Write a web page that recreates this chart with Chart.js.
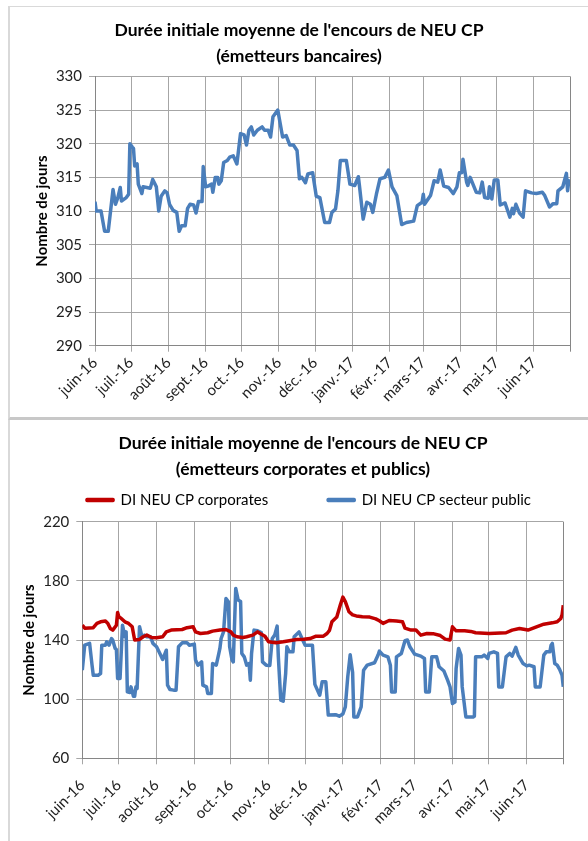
<!DOCTYPE html>
<html lang="fr">
<head>
<meta charset="utf-8">
<title>Durée initiale moyenne de l'encours de NEU CP</title>
<script src="https://cdn.jsdelivr.net/npm/chart.js@4.4.1/dist/chart.umd.min.js"></script>
<style>
  html, body { margin: 0; padding: 0; background: #fff; }
  body { width: 588px; height: 841px; position: relative; overflow: hidden; font-family: Lato, sans-serif; }
  .panel { position: absolute; box-sizing: border-box; }
  #panelTop { left: 8px; top: 6px; width: 600px; height: 414px; border-top: 1px solid #d9d9d9; border-left: 2px solid #d9d9d9; border-bottom: 3px solid #c8c8c8; }
  #panelBottom { left: 8px; top: 420px; width: 600px; height: 440px; border-left: 2px solid #d9d9d9; }
  canvas { position: absolute; }
  #bankChart { left: 10px; top: 7px; }
  #corpChart { left: 10px; top: 420px; }
</style>
</head>
<body>
<div class="panel" id="panelTop"></div>
<div class="panel" id="panelBottom"></div>
<canvas id="bankChart" width="578" height="410"></canvas>
<canvas id="corpChart" width="578" height="421"></canvas>
<script>
// month axis (days counted from 1 June 2016)
const monthLabels = ['juin-16','juil.-16','août-16','sept.-16','oct.-16','nov.-16','déc.-16','janv.-17','févr.-17','mars-17','avr.-17','mai-17','juin-17'];
const monthStarts = [0,30,61,92,122,153,183,214,245,273,304,334,365];
const lastDay = 395;

// émetteurs bancaires
const bankDays = [0,1,5,8,11,15,17,19,21,22,26,28,29,31,32,33,35,36,39,40,43,46,48,51,53,55,58,60,62,65,68,70,72,75,77,79,82,84,86,89,90,92,94,97,98,100,102,103,105,107,110,112,115,118,121,124,126,128,130,132,135,139,141,144,146,148,152,154,156,159,162,165,168,170,172,175,177,181,184,187,191,195,197,200,202,204,209,212,216,219,220,223,226,229,231,234,237,241,244,247,251,255,259,265,268,272,273,274,279,282,285,287,290,294,298,301,303,305,306,309,310,312,317,320,322,324,327,328,330,332,335,337,341,345,347,348,350,353,356,358,363,367,372,374,378,381,384,385,387,389,392,393,394,395];
const bankValues = [311.4,310,310,307,307,313.2,311,312,313.5,311.5,312,312.5,320,319.5,319.3,316.7,317,314,312.6,313.6,313.5,313.4,314.7,313.6,310,312.2,313,312.7,311,310.1,309.8,307,307.8,307.8,310.4,311,310.9,309.7,311.4,311.4,316.6,313.6,313.7,314,312.8,315,315,314,314.5,317.2,317.5,318,318.2,317,321.5,321.3,319.8,322,322.5,321.3,322,322.5,322,322,321,324,325,323,321,321.2,319.8,319.8,319,314.8,315,314.2,315.5,315.7,312.2,312,308.3,308.3,309.8,310.3,313,317.5,317.5,314,313.8,315.1,313.6,308.8,311.3,311,309.8,312.5,314.8,315,316.1,313.6,312.3,308,308.3,308.5,310.8,311.3,312.5,311,312.3,314.5,314.3,316.1,313.7,313.5,312.6,313.6,315.7,315.7,317.7,314.3,313.8,315,312.8,312.7,314.3,312,311.9,313.6,311.8,314.6,314.6,310.9,311.2,309.1,310.4,309.6,311,309.7,309.1,313,312.7,312.6,312.8,312.3,310.6,311.1,311.1,313,313.3,313.6,315.6,313,314.5,314.3];

// émetteurs corporates
const corpDays = [0,2,9,12,15,19,21,23,25,28,29,30,32,35,38,41,42,43,47,50,53,57,61,66,69,73,82,86,91,93,97,103,107,113,118,122,124,127,132,135,140,144,146,150,153,159,165,170,176,182,187,192,198,201,203,205,209,212,214,216,219,222,225,230,236,241,244,247,252,258,263,265,270,274,278,283,288,294,298,302,304,307,314,319,323,334,348,353,359,366,373,379,386,390,393,394,395];
const corpValues = [150,148,148.3,151.2,152.3,152.8,151.2,147.8,146.7,150,158.6,155.7,154.6,152.3,151.2,148.9,144.4,140,140.4,142.2,143.3,141.7,141.5,142.2,145.5,146.7,147.1,148.3,148.9,145.5,144.4,144.9,146,146.7,147.1,145.5,143.3,142.2,141.7,142.2,143.3,145.5,144.4,142.5,138.8,138.1,138.8,139.5,140.4,140.5,141,142.6,142.6,144.4,146.5,152.3,155.5,164,169,166,159.1,157,156.3,155.7,155.5,154.3,153,151.2,153.2,152.8,152.3,148,146.7,146.7,143.3,144.4,144.3,143,140.6,140,148.9,146.2,146.2,145.8,144.9,144.4,144.9,146.7,147.8,146.7,148.9,150.7,151.6,152.3,154.6,157,163.6];

// secteur public
const publicDays = [0,2,6,8,9,13,15,16,19,20,22,24,25,27,28,29,31,33,35,36,37,39,40,42,43,44,45,47,49,51,53,56,58,61,64,66,69,70,72,75,77,79,82,86,88,92,93,95,98,99,102,103,106,107,110,112,113,114,116,118,120,121,123,124,126,128,130,131,133,135,137,138,139,141,144,147,148,151,154,156,158,160,161,163,165,167,168,170,173,174,178,181,183,189,191,195,197,200,202,208,211,214,216,218,220,222,223,226,229,231,234,240,243,244,247,251,253,254,257,258,262,265,267,269,273,278,281,282,285,287,291,293,297,300,302,304,306,307,309,311,312,315,321,322,323,328,330,333,334,338,341,342,345,348,351,353,356,358,362,365,367,371,372,376,379,381,384,385,386,388,390,392,394,395];
const publicValues = [119.6,136.5,137.7,123,116.2,116.2,117.3,136.5,136.5,138.8,136.5,141,139.9,134.3,133.6,114,114,150,142.2,145.5,104.9,104.5,108.3,102,102,108.3,107.2,149,142.2,143.3,142.2,142.2,137.7,135.4,130.4,126.8,133.1,109.5,106.5,106.1,106.1,135.4,138.1,138.1,136.5,137.2,126.4,123,125.2,109.5,108.3,103.8,103.8,124.1,123,130.4,134.3,141,145.5,168.1,165.9,135.4,126.4,125.2,174.9,167,166,130.9,128.6,123,124.1,112.8,130.9,146.7,146.2,145,125.2,123,122.8,141,143.3,149.4,128.6,99.3,98.6,117.3,135.4,132,132,142.2,145.5,140,136.5,136.5,110,102.7,111.7,111.7,89.2,89.5,88.5,90,94.8,115.1,130,118,88,88,94.8,119.6,123,124.6,130,132.5,129.8,128.6,123,104.9,104.9,128.6,130.9,139.5,140,135.4,130.4,129.1,127.5,104.9,104.9,128.6,128.6,121.9,119,112.8,108.3,97,98,120.7,134.3,129.8,108.3,88,88,88.5,128.6,128.6,129.8,127.5,130.9,132,130.9,108.3,108.3,128.6,130.9,129.1,135,129.8,124.1,122.5,123,121.9,108.3,108.3,129.8,132,132,136.5,137.7,124.1,123,120.1,116.2,108.3];

const blue = '#4a7ebb';
const red = '#c00000';
const gridGray = '#a6a6a6';
const titleFont = { family: 'Lato', size: 17.5, weight: 'bold', lineHeight: '26px' };

function toPoints(days, values) {
  return days.map((d, i) => ({ x: d, y: values[i] }));
}

function monthAxis(height, size, pad) {
  return {
    type: 'linear',
    min: 0,
    max: lastDay,
    afterBuildTicks: scale => {
      scale.ticks = monthStarts.concat([lastDay]).map(v => ({ value: v }));
    },
    afterFit: scale => { scale.height = height; },
    ticks: {
      autoSkip: false,
      maxRotation: 45,
      minRotation: 45,
      padding: pad,
      color: '#222',
      font: { family: 'Lato', size: size },
      callback: (v, i) => monthLabels[i] || ''
    },
    grid: {
      color: ctx => ctx.index === monthStarts.length ? '#868686' : gridGray,
      tickLength: 6
    },
    border: { color: '#868686' }
  };
}

function valueAxis(width, min, max, step, size, titlePad) {
  return {
    min: min,
    max: max,
    afterFit: scale => { scale.width = width; },
    ticks: { stepSize: step, padding: 7, color: '#222', font: { family: 'Lato', size: size } },
    grid: { color: gridGray, tickLength: 6 },
    border: { color: '#868686' },
    title: {
      display: true,
      text: 'Nombre de jours',
      color: '#000',
      font: { family: 'Lato', size: 15, weight: 'bold' },
      padding: { top: titlePad, bottom: 0 }
    }
  };
}

function lineSet(label, days, values, color) {
  return {
    label: label,
    data: toPoints(days, values),
    borderColor: color,
    backgroundColor: color,
    borderWidth: 3.5,
    pointRadius: 0,
    tension: 0,
    borderJoinStyle: 'round'
  };
}

const bankChart = new Chart(document.getElementById('bankChart'), {
  type: 'line',
  data: { datasets: [lineSet('DI NEU CP bancaires', bankDays, bankValues, blue)] },
  options: {
    responsive: false,
    animation: false,
    layout: { padding: { left: 18, right: 18, top: 0, bottom: 0 } },
    plugins: {
      legend: { display: false },
      tooltip: { enabled: false },
      title: {
        display: true,
        text: ["Durée initiale moyenne de l'encours de NEU CP", '(émetteurs bancaires)'],
        color: '#000',
        font: titleFont,
        padding: { top: 10, bottom: 7.4 }
      }
    },
    scales: {
      x: monthAxis(71.3, 15, 2),
      y: valueAxis(67, 290, 330, 5, 15, 4.7)
    }
  }
});

// legend kept on one row with wide Excel-like spacing, and a gap under it
const legendGap = {
  id: 'legendGap',
  beforeInit(chart) {
    const fit = chart.legend.fit;
    chart.legend.fit = function () {
      const mw = this.maxWidth;
      this.maxWidth = 1000;
      fit.call(this);
      this.maxWidth = mw;
      this.width = mw;
      this.height += 4.2;
    };
  },
  afterLayout(chart) {
    chart.legend.left -= 94;
    chart.legend.right += 106;
  }
};

const corpChart = new Chart(document.getElementById('corpChart'), {
  type: 'line',
  data: {
    datasets: [
      lineSet('DI NEU CP corporates', corpDays, corpValues, red),
      lineSet('DI NEU CP secteur public', publicDays, publicValues, blue)
    ]
  },
  options: {
    responsive: false,
    animation: false,
    layout: { padding: { left: 32, right: 24, top: 0, bottom: 0 } },
    plugins: {
      tooltip: { enabled: false },
      title: {
        display: true,
        text: ["Durée initiale moyenne de l'encours de NEU CP", '(émetteurs corporates et publics)'],
        color: '#000',
        font: titleFont,
        padding: { top: 10, bottom: -49.5 }
      },
      legend: {
        display: true,
        position: 'top',
        labels: {
          boxWidth: 26,
          boxHeight: 1,
          padding: 60,
          color: '#000',
          font: { family: 'Lato', size: 15 }
        }
      }
    },
    scales: {
      x: monthAxis(82.7, 15, 12),
      y: valueAxis(40.3, 60, 220, 40, 15, -21.5)
    }
  },
  plugins: [legendGap]
});
</script>
</body>
</html>
